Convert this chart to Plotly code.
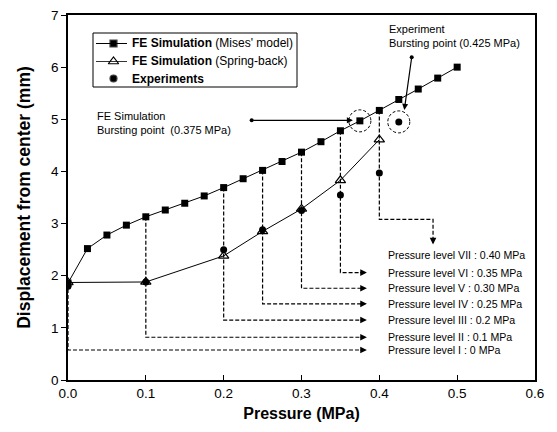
import plotly.graph_objects as go

# ---- data ----
pressure_mises = [0.0, 0.025, 0.05, 0.075, 0.1, 0.125, 0.15, 0.175, 0.2, 0.225, 0.25,
                  0.275, 0.3, 0.325, 0.35, 0.375, 0.4, 0.425, 0.45, 0.475, 0.5]
disp_mises = [1.86, 2.52, 2.78, 2.97, 3.13, 3.26, 3.39, 3.53, 3.69, 3.86, 4.02,
              4.19, 4.37, 4.57, 4.78, 4.97, 5.17, 5.38, 5.58, 5.79, 6.00]
pressure_spring = [0.0, 0.1, 0.2, 0.25, 0.3, 0.35, 0.4]
disp_spring = [1.87, 1.88, 2.38, 2.85, 3.28, 3.83, 4.61]
pressure_exp = [0.0, 0.1, 0.2, 0.25, 0.3, 0.35, 0.4, 0.425]
disp_exp = [1.80, 1.88, 2.50, 2.88, 3.25, 3.55, 3.97, 4.95]

level_names = ["I", "II", "III", "IV", "V", "VI", "VII"]
level_pressures = [0.0, 0.1, 0.2, 0.25, 0.3, 0.35, 0.4]
level_values = ["0 MPa", "0.1 MPa", "0.2 MPa", "0.25 MPa", "0.30 MPa", "0.35 MPa", "0.40 MPa"]

fe_burst_p = 0.375
exp_burst_p = 0.425

series_bold = ["FE Simulation", "FE Simulation", "Experiments"]
series_rest = [" (Mises' model)", " (Spring-back)", ""]

x_ticks = [0.0, 0.1, 0.2, 0.3, 0.4, 0.5, 0.6]
y_ticks = [0, 1, 2, 3, 4, 5, 6, 7]

# ---- layout positions (not data) ----
X_RANGE = (0, 0.6)
Y_RANGE = (0, 7)
PL, PR, PT, PB = 68, 535, 15, 380  # plot area in page pixels


def dx(px):
    return X_RANGE[0] + (px - PL) / (PR - PL) * (X_RANGE[1] - X_RANGE[0])


def dy(py):
    return Y_RANGE[0] + (PB - py) / (PB - PT) * (Y_RANGE[1] - Y_RANGE[0])


def paper_x(px):
    return (px - PL) / (PR - PL)


def paper_y(py):
    return (PB - py) / (PB - PT)


level_rows = [0.575, 0.82, 1.15, 1.46, 1.76, 2.06, 2.40]
arrow_end_x = 0.384
text_x = 0.409

FONT = "Arial, Liberation Sans, Helvetica, sans-serif"

fig = go.Figure()

mises_at = dict(zip(pressure_mises, disp_mises))

# drop lines
for i, p in enumerate(level_pressures):
    top = mises_at[p]
    if level_names[i] == "VII":
        xs = [p, p, 0.469, 0.469]
        ys = [top, 3.08, 3.08, 2.66]
    else:
        ly = level_rows[i]
        xs = [p, p, arrow_end_x - 0.004]
        ys = [top, ly, ly]
    fig.add_trace(go.Scatter(x=xs, y=ys, mode="lines", showlegend=False, hoverinfo="skip",
                             line=dict(color="black", width=1.2, dash="4px,2px")))

fig.add_trace(go.Scatter(x=pressure_mises, y=disp_mises, mode="lines+markers", showlegend=False,
                         line=dict(color="black", width=1),
                         marker=dict(symbol="square", size=7, color="black")))
fig.add_trace(go.Scatter(x=pressure_exp, y=disp_exp, mode="markers", showlegend=False,
                         marker=dict(symbol="circle", size=7, color="black")))
fig.add_trace(go.Scatter(x=pressure_spring, y=disp_spring, mode="lines+markers", showlegend=False,
                         line=dict(color="black", width=1),
                         marker=dict(symbol="triangle-up-open", size=9, color="black",
                                     line=dict(width=1.2))))

# arrow tails (dots)
fig.add_trace(go.Scatter(x=[0.236, 0.4416], y=[4.98, 6.19], mode="markers", showlegend=False,
                         hoverinfo="skip", marker=dict(size=4, color="black")))

annotations = []
shapes = []

# ---- manual legend ----
leg_rows = [43.5, 61.5, 78.5]
shapes.append(dict(type="rect", xref="paper", yref="paper",
                   x0=paper_x(93), x1=paper_x(297), y0=paper_y(87), y1=paper_y(33),
                   line=dict(color="black", width=1), fillcolor="white", layer="below"))
leg_symbols = [("square", 7, 1.0), ("triangle-up-open", 9, 0.8), ("circle", 7, 0)]
for i, (sym, sz, lw) in enumerate(leg_symbols):
    ry = leg_rows[i]
    if lw > 0:
        shapes.append(dict(type="line", xref="paper", yref="paper",
                           x0=paper_x(96), x1=paper_x(127), y0=paper_y(ry), y1=paper_y(ry),
                           line=dict(color="black", width=lw)))
    fig.add_trace(go.Scatter(x=[dx(113.5)], y=[dy(ry)], mode="markers", showlegend=False,
                             hoverinfo="skip",
                             marker=dict(symbol=sym, size=sz, color="black", line=dict(width=1.2))))
    annotations.append(dict(x=paper_x(130), y=paper_y(ry), xref="paper", yref="paper",
                            xanchor="left", yanchor="middle", showarrow=False,
                            text=f"<b>{series_bold[i]}</b>{series_rest[i]}",
                            font=dict(family=FONT, size=12, color="black")))

# level labels + arrow heads
for i, name in enumerate(level_names):
    ly = level_rows[i]
    annotations.append(dict(x=text_x, y=ly, xref="x", yref="y", xanchor="left", yanchor="middle",
                            text=f"Pressure level {name} : {level_values[i]}", showarrow=False,
                            font=dict(family=FONT, size=10.6, color="black")))
    if name == "VII":
        annotations.append(dict(x=0.469, y=2.60, xref="x", yref="y", ax=0, ay=-8, text="",
                                showarrow=True, arrowhead=2, arrowsize=1.1, arrowwidth=1.2,
                                arrowcolor="black"))
    else:
        annotations.append(dict(x=arrow_end_x, y=ly, xref="x", yref="y", ax=-8, ay=0, text="",
                                showarrow=True, arrowhead=2, arrowsize=1.1, arrowwidth=1.2,
                                arrowcolor="black"))

# bursting point annotations
annotations.append(dict(x=dx(95), y=dy(123), xref="x", yref="y", xanchor="left", yanchor="middle",
                        align="left", showarrow=False,
                        text="FE Simulation<br>Bursting point  (0.375 MPa)",
                        font=dict(family=FONT, size=11, color="black")))
annotations.append(dict(x=0.366, y=4.98, xref="x", yref="y", ax=0.236, ay=4.98,
                        axref="x", ayref="y", text="", showarrow=True, arrowhead=2,
                        arrowsize=1, arrowwidth=1.2, arrowcolor="black"))
annotations.append(dict(x=dx(387), y=dy(35.5), xref="x", yref="y", xanchor="left", yanchor="middle",
                        align="left", showarrow=False,
                        text="Experiment<br>Bursting point (0.425 MPa)",
                        font=dict(family=FONT, size=11, color="black")))
annotations.append(dict(x=0.4321, y=5.18, xref="x", yref="y", ax=0.4416, ay=6.19,
                        axref="x", ayref="y", text="", showarrow=True, arrowhead=2,
                        arrowsize=1, arrowwidth=1.2, arrowcolor="black"))

for p, yv in [(fe_burst_p, mises_at[fe_burst_p]), (exp_burst_p, disp_exp[pressure_exp.index(exp_burst_p)])]:
    shapes.append(dict(type="circle", xref="x", yref="y", xsizemode="pixel", ysizemode="pixel",
                       xanchor=p, yanchor=yv, x0=-11, x1=11, y0=-11, y1=11,
                       line=dict(color="black", width=1, dash="3px,2px")))

fig.update_layout(
    width=549, height=424,
    margin=dict(l=60, r=22, t=7, b=52, autoexpand=False),
    paper_bgcolor="white", plot_bgcolor="white",
    font=dict(family=FONT, color="black", size=13.5),
    annotations=annotations, shapes=shapes, showlegend=False,
    xaxis=dict(range=list(X_RANGE), tickvals=x_ticks, ticktext=[f"{v:.1f}" for v in x_ticks],
               ticks="inside", ticklen=5, tickcolor="black", showline=True, linecolor="black",
               linewidth=1.5, mirror=True, showgrid=False, zeroline=False, automargin=False,
               ticklabeloverflow="allow",
               title=dict(text="<b>Pressure (MPa)</b>", font=dict(size=16), standoff=8)),
    yaxis=dict(range=list(Y_RANGE), tickvals=y_ticks, ticktext=[str(v) for v in y_ticks],
               ticks="outside", ticklen=5, tickcolor="black", showline=True, linecolor="black",
               linewidth=1.5, mirror=True, showgrid=False, zeroline=False, automargin=False,
               ticklabeloverflow="allow",
               title=dict(text="<b>Displacement from center (mm)</b>", font=dict(size=17.5), standoff=16)),
)

fig.write_html("out.html")
